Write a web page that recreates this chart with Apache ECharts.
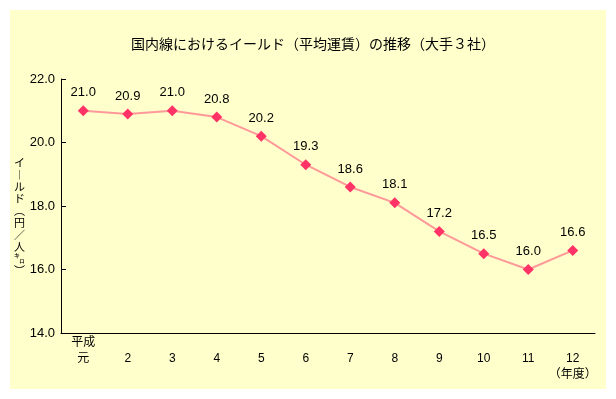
<!DOCTYPE html>
<html>
<head>
<meta charset="utf-8">
<script src="https://cdn.jsdelivr.net/npm/echarts@6/dist/echarts.min.js"></script>
<style>
  html, body { margin: 0; padding: 0; background: #ffffff; }
  #chart { width: 616px; height: 399px; }
</style>
</head>
<body>
<div id="chart"></div>
<script>
  // 国内線イールド（大手3社）
  const years = ['平成\n元', '\n2', '\n3', '\n4', '\n5', '\n6', '\n7', '\n8', '\n9', '\n10', '\n11', '\n12\n（年度）'];
  const yieldValues = [21.0, 20.9, 21.0, 20.8, 20.2, 19.3, 18.6, 18.1, 17.2, 16.5, 16.0, 16.6];
  const yTicks = [14, 16, 18, 20, 22];

  const font = '"Liberation Sans", "Noto Sans CJK JP", sans-serif';
  const chart = echarts.init(document.getElementById('chart'));

  let option = {
    backgroundColor: '#ffffff',
    animation: false,
    title: {
      text: '国内線におけるイールド（平均運賃）の推移（大手３社）',
      left: 308,
      textAlign: 'center',
      top: 33,
      textStyle: { fontFamily: font, fontSize: 14, fontWeight: 'normal', color: '#000' }
    },
    graphic: [
      {
        type: 'rect',
        z: -10,
        shape: { x: 10, y: 10, width: 596, height: 379 },
        style: { fill: '#ffffcc' }
      },
      {
        type: 'text',
        left: 14,
        top: 157,
        style: {
          text: 'イ\n︱\nル\nド\n︵\n円\n／\n人\n㌔\n︶',
          font: '11px "Noto Sans CJK JP"',
          lineHeight: 12,
          fill: '#000',
          align: 'center'
        }
      }
    ],
    grid: { left: 61, right: 21, top: 79, bottom: 66 },
    xAxis: {
      type: 'category',
      data: years,
      boundaryGap: true,
      axisLine: { lineStyle: { color: '#000', width: 1 } },
      axisTick: { inside: true, length: 5, lineStyle: { color: '#000' } },
      axisLabel: {
        color: '#000',
        fontFamily: font,
        fontSize: 12,
        lineHeight: 16,
        margin: 2,
        interval: 0
      }
    },
    yAxis: {
      type: 'value',
      min: yTicks[0],
      max: yTicks[yTicks.length - 1],
      interval: 2,
      splitLine: { show: false },
      axisLine: { show: true, lineStyle: { color: '#000', width: 1 } },
      axisTick: { show: true, inside: true, length: 5, lineStyle: { color: '#000' } },
      axisLabel: {
        color: '#000',
        fontFamily: font,
        fontSize: 13,
        margin: 6,
        formatter: v => v.toFixed(1)
      }
    },
    series: [
      {
        type: 'line',
        data: yieldValues,
        symbol: 'diamond',
        symbolSize: 11,
        lineStyle: { color: '#ff9999', width: 2 },
        itemStyle: { color: '#ff3366' },
        label: {
          show: true,
          position: 'top',
          distance: 6,
          color: '#000',
          fontFamily: font,
          fontSize: 13,
          formatter: p => p.value.toFixed(1)
        }
      }
    ]
  };

  chart.setOption(option);
</script>
</body>
</html>
